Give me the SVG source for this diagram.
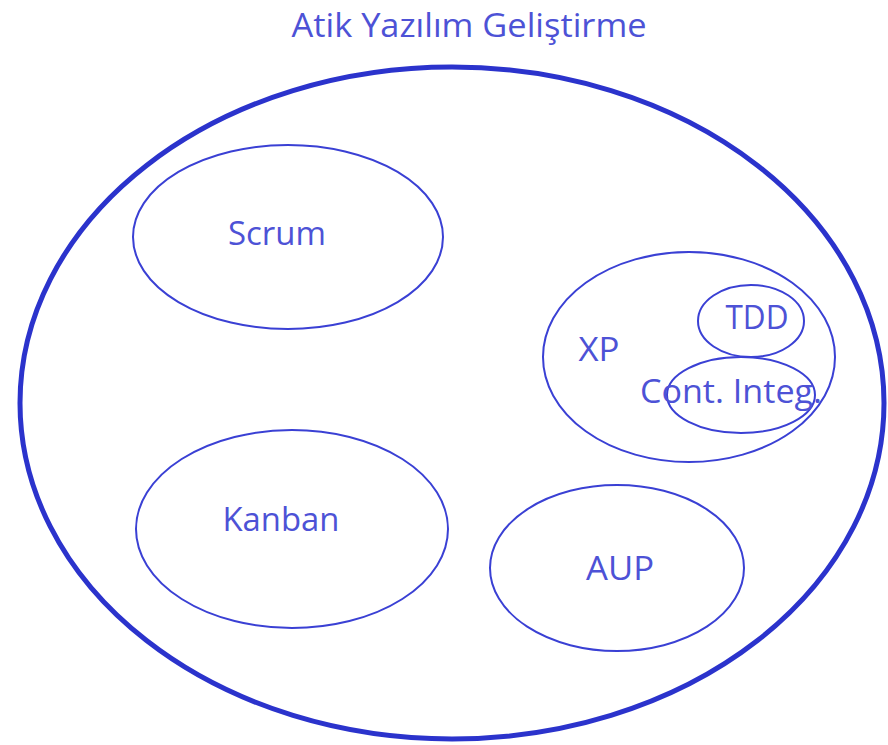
<svg xmlns="http://www.w3.org/2000/svg" width="888" height="745" viewBox="0 0 888 745">
<style>
.thin{fill:none;stroke:#3a40d4;stroke-width:2}
.big{fill:none;stroke:#2b33cc;stroke-width:5}
text{font-family:"Open Sans","Liberation Sans",sans-serif;fill:#4d52d6;font-size:33px;text-anchor:middle}
</style>
<rect width="888" height="745" fill="#ffffff"/>
<text x="469" y="37" font-size="31" textLength="355" lengthAdjust="spacingAndGlyphs">Atik Yazılım Geliştirme</text>
<g id="atik"><ellipse class="big" cx="452" cy="403" rx="432" ry="336"/></g>
<g id="scrum"><ellipse class="thin" cx="288" cy="237" rx="155" ry="92"/><text x="277" y="245" textLength="98" lengthAdjust="spacingAndGlyphs">Scrum</text></g>
<g id="kanban"><ellipse class="thin" cx="292" cy="529" rx="156" ry="99"/><text x="281" y="531" textLength="117" lengthAdjust="spacingAndGlyphs">Kanban</text></g>
<g id="aup"><ellipse class="thin" cx="617" cy="568" rx="127" ry="83"/><text x="620" y="580" textLength="68" lengthAdjust="spacingAndGlyphs">AUP</text></g>
<g id="xp"><ellipse class="thin" cx="689" cy="357" rx="146" ry="105"/><text x="599" y="361" textLength="41" lengthAdjust="spacingAndGlyphs">XP</text></g>
<g id="tdd"><ellipse class="thin" cx="751" cy="321" rx="53" ry="36"/><text x="757" y="329" textLength="63" lengthAdjust="spacingAndGlyphs">TDD</text></g>
<g id="ci"><ellipse class="thin" cx="741" cy="395" rx="74" ry="38"/><text x="731" y="403" textLength="182" lengthAdjust="spacingAndGlyphs">Cont. Integ.</text></g>
<g id="connectors"></g>
</svg>
